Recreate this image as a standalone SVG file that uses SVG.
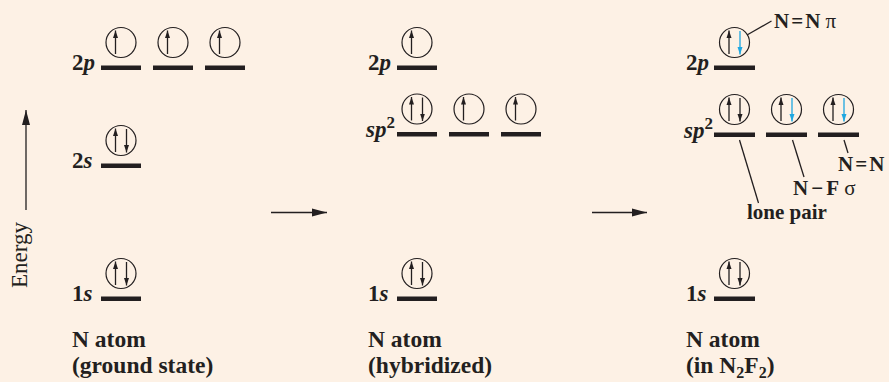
<svg xmlns="http://www.w3.org/2000/svg" width="889" height="382" viewBox="0 0 889 382">
<style>
.bg{fill:#fdf1e5}
.bar{fill:#231f20}
.orb{fill:none;stroke:#231f20;stroke-width:1.2}
.el{stroke:#231f20;stroke-width:1.3;fill:none}
.elb{stroke:#1ea7e1;stroke-width:1.3;fill:none}
.lbl{font-family:"Liberation Serif",serif;font-weight:bold;font-size:23px;fill:#231f20}
.it{font-style:italic}
.sup{font-size:17px}
.big{font-family:"Liberation Serif",serif;font-weight:bold;font-size:23.5px;fill:#231f20}
.note{font-family:"Liberation Serif",serif;font-weight:bold;font-size:21px;fill:#231f20}
.reg{font-weight:normal}
.axis{font-family:"Liberation Serif",serif;font-size:23px;fill:#231f20}
.ln{stroke:#231f20;stroke-width:1.3;fill:none}
</style>
<defs>
<marker id="hu" markerWidth="9" markerHeight="9" refX="7.5" refY="4.5" orient="auto" markerUnits="userSpaceOnUse">
<path d="M0,2 L7.5,4.5 L0,7 Z" fill="#231f20"/>
</marker>
<marker id="hb" markerWidth="9" markerHeight="9" refX="7.5" refY="4.5" orient="auto" markerUnits="userSpaceOnUse">
<path d="M0,2 L7.5,4.5 L0,7 Z" fill="#1ea7e1"/>
</marker>
<marker id="ha" markerWidth="16" markerHeight="10" refX="15" refY="5" orient="auto" markerUnits="userSpaceOnUse">
<path d="M0,1 L15,5 L0,9 Z" fill="#231f20"/>
</marker>
<g id="up"><line x1="-5.5" y1="11.5" x2="-5.5" y2="-12" class="el" marker-end="url(#hu)"/></g>
<g id="dn"><line x1="5.5" y1="-11.5" x2="5.5" y2="12" class="el" marker-end="url(#hu)"/></g>
<g id="dnb"><line x1="5.5" y1="-11.5" x2="5.5" y2="12" class="elb" marker-end="url(#hb)"/></g>
</defs>
<rect class="bg" width="889" height="382"/>

<g id="energy-axis">
<line x1="26" y1="210" x2="26" y2="110" class="ln" marker-end="url(#ha)"/>
<text class="axis" transform="translate(27,288) rotate(-90)">Energy</text>
</g>

<g id="ground">
<text class="lbl" x="72" y="70">2<tspan class="it">p</tspan></text>
<rect class="bar" x="101" y="65.5" width="40" height="4.5"/>
<rect class="bar" x="153" y="65.5" width="40" height="4.5"/>
<rect class="bar" x="205" y="65.5" width="40" height="4.5"/>
<circle class="orb" cx="121" cy="42.5" r="15"/><use href="#up" x="121" y="42.5"/>
<circle class="orb" cx="173" cy="42.5" r="15"/><use href="#up" x="173" y="42.5"/>
<circle class="orb" cx="225" cy="42.5" r="15"/><use href="#up" x="225" y="42.5"/>
<text class="lbl" x="72" y="168">2<tspan class="it">s</tspan></text>
<rect class="bar" x="101" y="163.5" width="40" height="4.5"/>
<circle class="orb" cx="121" cy="140.5" r="15"/><use href="#up" x="121" y="140.5"/><use href="#dn" x="121" y="140.5"/>
<text class="lbl" x="72" y="301">1<tspan class="it">s</tspan></text>
<rect class="bar" x="101" y="296.5" width="40" height="4.5"/>
<circle class="orb" cx="121" cy="273.5" r="15"/><use href="#up" x="121" y="273.5"/><use href="#dn" x="121" y="273.5"/>
<text class="big" x="72" y="347">N atom</text>
<text class="big" x="72" y="373">(ground state)</text>
</g>

<g id="hybrid">
<text class="lbl" x="368" y="70">2<tspan class="it">p</tspan></text>
<rect class="bar" x="397" y="65.5" width="40" height="4.5"/>
<circle class="orb" cx="417" cy="42.5" r="15"/><use href="#up" x="417" y="42.5"/>
<text class="lbl" x="366" y="137"><tspan class="it">sp</tspan><tspan class="sup" dy="-9">2</tspan></text>
<rect class="bar" x="397" y="132" width="40" height="4.5"/>
<rect class="bar" x="449" y="132" width="40" height="4.5"/>
<rect class="bar" x="501" y="132" width="40" height="4.5"/>
<circle class="orb" cx="417" cy="109" r="15"/><use href="#up" x="417" y="109"/><use href="#dn" x="417" y="109"/>
<circle class="orb" cx="469" cy="109" r="15"/><use href="#up" x="469" y="109"/>
<circle class="orb" cx="521" cy="109" r="15"/><use href="#up" x="521" y="109"/>
<text class="lbl" x="368" y="301">1<tspan class="it">s</tspan></text>
<rect class="bar" x="397" y="296.5" width="40" height="4.5"/>
<circle class="orb" cx="417" cy="273.5" r="15"/><use href="#up" x="417" y="273.5"/><use href="#dn" x="417" y="273.5"/>
<text class="big" x="368" y="347">N atom</text>
<text class="big" x="368" y="373">(hybridized)</text>
</g>

<g id="n2f2">
<text class="lbl" x="686" y="70">2<tspan class="it">p</tspan></text>
<rect class="bar" x="714" y="65.5" width="41" height="4.5"/>
<circle class="orb" cx="734.5" cy="42.5" r="15"/><use href="#up" x="734.5" y="42.5"/><use href="#dnb" x="734.5" y="42.5"/>
<text class="lbl" x="684" y="137.5"><tspan class="it">sp</tspan><tspan class="sup" dy="-9">2</tspan></text>
<rect class="bar" x="714" y="132.5" width="41" height="4.5"/>
<rect class="bar" x="766" y="132.5" width="41" height="4.5"/>
<rect class="bar" x="818" y="132.5" width="41" height="4.5"/>
<circle class="orb" cx="734.5" cy="109.5" r="15"/><use href="#up" x="734.5" y="109.5"/><use href="#dn" x="734.5" y="109.5"/>
<circle class="orb" cx="786.5" cy="109.5" r="15"/><use href="#up" x="786.5" y="109.5"/><use href="#dnb" x="786.5" y="109.5"/>
<circle class="orb" cx="838.5" cy="109.5" r="15"/><use href="#up" x="838.5" y="109.5"/><use href="#dnb" x="838.5" y="109.5"/>
<text class="lbl" x="686" y="301">1<tspan class="it">s</tspan></text>
<rect class="bar" x="714" y="296.5" width="41" height="4.5"/>
<circle class="orb" cx="734.5" cy="273.5" r="15"/><use href="#up" x="734.5" y="273.5"/><use href="#dn" x="734.5" y="273.5"/>
<text class="big" x="686" y="347">N atom</text>
<text class="big" x="686" y="373">(in N<tspan font-size="16" dy="5">2</tspan><tspan dy="-5">F</tspan><tspan font-size="16" dy="5">2</tspan><tspan dy="-5">)</tspan></text>
<text class="note" x="774" y="28" xml:space="preserve">N<tspan dx="2">=</tspan><tspan dx="2">N</tspan><tspan class="reg"> π</tspan></text>
<text class="note" x="838" y="171">N<tspan dx="2">=</tspan><tspan dx="2">N</tspan></text>
<text class="note" x="793" y="195" xml:space="preserve">N<tspan dx="3">−</tspan><tspan dx="3">F</tspan><tspan class="reg"> σ</tspan></text>
<text class="note" x="747" y="219">lone pair</text>
</g>

<g id="connectors">
<line x1="271" y1="212.5" x2="327" y2="212.5" class="ln" marker-end="url(#ha)"/>
<line x1="592" y1="212.5" x2="647" y2="212.5" class="ln" marker-end="url(#ha)"/>
<line x1="747" y1="35" x2="771.5" y2="21" class="ln"/>
<line x1="739.5" y1="140" x2="758.5" y2="203" class="ln"/>
<line x1="792.5" y1="140" x2="804" y2="177" class="ln"/>
<line x1="844" y1="140" x2="848" y2="153" class="ln"/>
</g>
</svg>
